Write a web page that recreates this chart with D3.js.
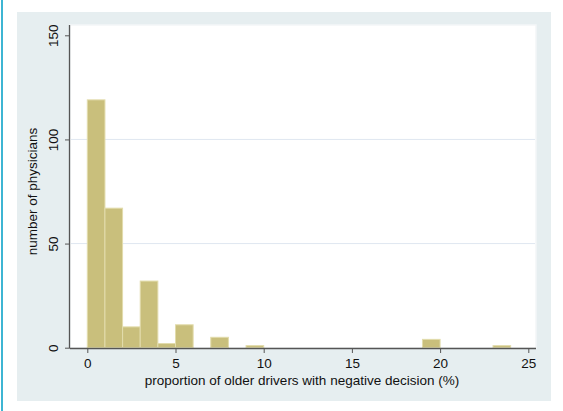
<!DOCTYPE html>
<html><head><meta charset="utf-8">
<script src="https://cdn.jsdelivr.net/npm/d3@7"></script>
<style>body{margin:0;background:#fff;}svg{display:block;}</style>
</head><body>
<script>
const binStarts = [0,1,2,3,4,5,6,7,8,9,10,11,12,13,14,15,16,17,18,19,20,21,22,23,24];
const counts =    [119,67,10,32,2,11,0,5,0,1,0,0,0,0,0,0,0,0,0,4,0,0,0,1,0];
const xTicks = [0,5,10,15,20,25];
const yTicks = [0,50,100,150];
const xTitle = "proportion of older drivers with negative decision (%)";
const yTitle = "number of physicians";

const W=563,H=411;
const svg=d3.select("body").append("svg").attr("width",W).attr("height",H);
const font="Liberation Sans, Arial, sans-serif";
// left border line
svg.append("rect").attr("x",1).attr("y",0).attr("width",2).attr("height",H).attr("fill","#3db5d3");
// panel
svg.append("rect").attr("x",17).attr("y",12).attr("width",534).attr("height",389).attr("fill","#e6eef0");
// plot region
const pl=70, pr=536, pt=25, pb=348;
svg.append("rect").attr("x",pl).attr("y",pt).attr("width",pr-pl).attr("height",pb-pt).attr("fill","#fff").attr("stroke","#f3f6f7").attr("stroke-width",1.5);

const x=d3.scaleLinear().domain([0,25]).range([87.3,528.3]);
const y=d3.scaleLinear().domain([0,150]).range([347.7,35.3]);

// gridlines
svg.append("g").selectAll("line").data(yTicks.filter(d=>d>0&&d<150)).join("line")
 .attr("x1",pl+1).attr("x2",pr-1).attr("y1",d=>y(d)).attr("y2",d=>y(d))
 .attr("stroke","#dfe7f0").attr("stroke-width",1);

// bars
svg.append("g").selectAll("rect").data(binStarts.map((b,i)=>({b,c:counts[i]})).filter(d=>d.c>0)).join("rect")
 .attr("x",d=>x(d.b)).attr("width",d=>x(d.b+1)-x(d.b))
 .attr("y",d=>y(d.c)).attr("height",d=>y(0)-y(d.c))
 .attr("fill","#c9bf7c").attr("stroke","#e2dcac").attr("stroke-width",1);

// x axis
const xa=svg.append("g").attr("transform",`translate(0,${pb})`)
 .call(d3.axisBottom(x).tickValues(xTicks).tickSize(5).tickPadding(5.5).tickSizeOuter(0));
xa.select(".domain").attr("d",`M${pl},0.5H${pr}`).attr("stroke","#555").attr("stroke-width",1.3);
xa.selectAll(".tick line").attr("stroke","#555");
xa.selectAll(".tick text").attr("font-family",font).attr("font-size",13.5).attr("fill","#111");

// y axis
const ya=svg.append("g").attr("transform",`translate(${pl},0)`)
 .call(d3.axisLeft(y).tickValues(yTicks).tickSize(5).tickSizeOuter(0));
ya.select(".domain").attr("d",`M-0.5,${pt}V${pb}`).attr("stroke","#555").attr("stroke-width",1.3);
ya.selectAll(".tick line").attr("stroke","#555");
ya.selectAll(".tick text").attr("font-family",font).attr("font-size",13.5).attr("fill","#111")
 .attr("transform","rotate(-90)").attr("x",0).attr("y",-12).attr("dy","0").attr("text-anchor","middle");

svg.append("text").attr("x",302).attr("y",385).attr("text-anchor","middle")
 .attr("font-family",font).attr("font-size",13.5).attr("fill","#111").text(xTitle);
svg.append("text").attr("transform",`translate(36.5,${(35.3+347.7)/2}) rotate(-90)`).attr("text-anchor","middle")
 .attr("font-family",font).attr("font-size",13.5).attr("fill","#111").text(yTitle);
</script>
</body></html>
